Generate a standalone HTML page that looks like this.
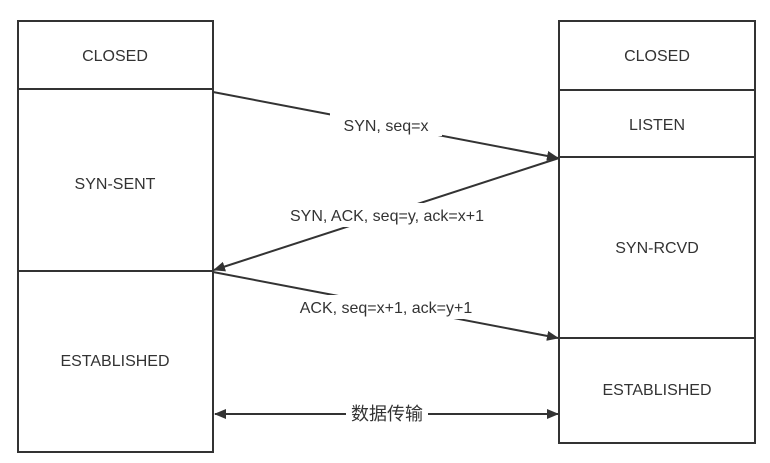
<!DOCTYPE html>
<html><head><meta charset="utf-8"><style>
html,body{margin:0;padding:0;background:#fff;width:770px;height:463px;overflow:hidden}
text{font-family:"Liberation Sans","Noto Sans CJK SC",sans-serif;fill:#333;font-size:16px}
</style></head><body>
<svg width="770" height="463" viewBox="0 0 770 463" xmlns="http://www.w3.org/2000/svg">
<defs>
<marker id="a" markerWidth="12" markerHeight="10" refX="11" refY="5" orient="auto" markerUnits="userSpaceOnUse">
<path d="M0,0 L12,5 L0,10 z" fill="#333"/></marker>
<marker id="b" markerWidth="12" markerHeight="10" refX="1" refY="5" orient="auto" markerUnits="userSpaceOnUse">
<path d="M12,0 L0,5 L12,10 z" fill="#333"/></marker>
</defs>
<g stroke="#333" stroke-width="2" fill="none">
<rect x="18" y="21" width="195" height="431"/>
<line x1="18" y1="89" x2="213" y2="89"/>
<line x1="18" y1="271" x2="213" y2="271"/>
<rect x="559" y="21" width="196" height="422"/>
<line x1="559" y1="90" x2="755" y2="90"/>
<line x1="559" y1="157" x2="755" y2="157"/>
<line x1="559" y1="338" x2="755" y2="338"/>
<line x1="213" y1="92" x2="558" y2="158" marker-end="url(#a)"/>
<line x1="559" y1="158" x2="214" y2="270" marker-end="url(#a)"/>
<line x1="213" y1="272" x2="558" y2="338" marker-end="url(#a)"/>
<line x1="215" y1="414" x2="558" y2="414" marker-start="url(#b)" marker-end="url(#a)"/>
</g>
<g fill="#fff">
<rect x="330" y="112" width="112" height="24"/>
<rect x="260" y="203" width="254" height="24"/>
<rect x="269" y="295" width="234" height="24"/>
<rect x="346" y="403" width="82" height="22"/>
</g>
<g text-anchor="middle">
<text x="115" y="61">CLOSED</text>
<text x="115" y="189">SYN-SENT</text>
<text x="115" y="366">ESTABLISHED</text>
<text x="657" y="61">CLOSED</text>
<text x="657" y="130">LISTEN</text>
<text x="657" y="253">SYN-RCVD</text>
<text x="657" y="395">ESTABLISHED</text>
<text x="386" y="131">SYN, seq=x</text>
<text x="387" y="221">SYN, ACK, seq=y, ack=x+1</text>
<text x="386" y="313">ACK, seq=x+1, ack=y+1</text>
<text x="387" y="420" style="font-size:18px">数据传输</text>
</g>
</svg>
</body></html>
